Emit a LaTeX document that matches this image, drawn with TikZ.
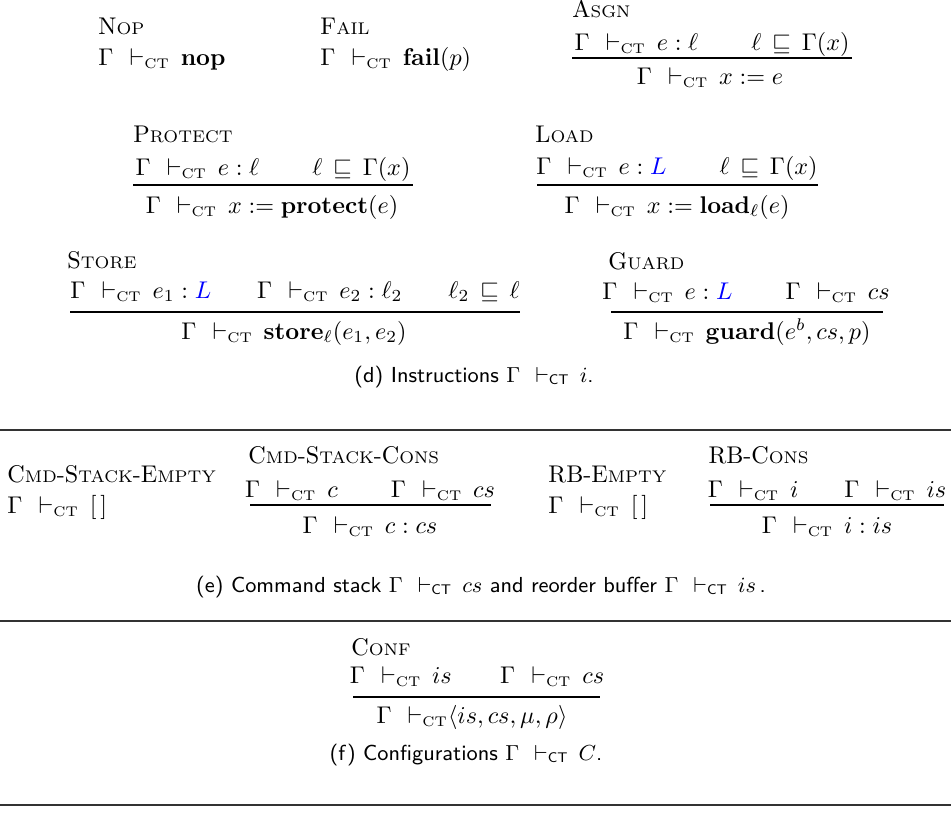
\documentclass[tikz,border=0pt]{standalone}
\usepackage{amsmath}
\usepackage{amssymb}
\usepackage{color}
\usepackage{tikz}

\newcommand{\ctsub}{\mbox{\fontsize{5.8}{6}\selectfont CT}}
\newcommand{\jdg}{\Gamma\mkern12mu{\vdash}_{\ctsub}\mkern8mu}
\newcommand{\lowL}{\textcolor{blue}{L}}
\newcommand{\rsc}[2]{#1{\fontsize{7}{9}\selectfont #2}}
\newcommand{\pgap}{\hspace{22pt}}
\newcommand{\flows}{\mkern3mu\sqsubseteq\mkern3mu}

\tikzset{
  rname/.style={anchor=base west,inner sep=0pt,font=\fontsize{10}{12}\selectfont},
  prem/.style={anchor=base,inner sep=0pt,font=\fontsize{10}{12}\selectfont},
  figcap/.style={anchor=base,inner sep=0pt,font=\fontsize{9}{11}\selectfont\sffamily},
  infline/.style={line width=0.5pt},
  sepline/.style={line width=0.45pt,black!80}
}

\begin{document}
\begin{tikzpicture}[x=0.414pt,y=-0.414pt]
	\useasboundingbox (0,0) rectangle (951,817);

	% (d) instructions
	\node[rname] (nopN) at (98,34) {\rsc{N}{OP}};
	\node[rname] (nopC) at (98,65) {$\jdg \mathbf{nop}$};
	\node[rname] (failN) at (320,34) {\rsc{F}{AIL}};
	\node[rname] (failC) at (320,65) {$\jdg \mathbf{fail}(p)$};

	\node[rname] (asgnN) at (572,17) {\rsc{A}{SGN}};
	\node[prem] (asgnP) at (712,50) {$\jdg e:\ell \pgap \ell\flows\Gamma(x)$};
	\coordinate (asgnA) at (572,58);
	\coordinate (asgnB) at (852,58);
	\node[prem] (asgnC) at (710,84) {$\jdg x := e$};
	\draw[infline] (asgnA) -- (asgnB);

	\node[rname] (protN) at (133,142) {\rsc{P}{ROTECT}};
	\node[prem] (protP) at (273,175) {$\jdg e:\ell \pgap \ell\flows\Gamma(x)$};
	\coordinate (protA) at (133,185);
	\coordinate (protB) at (413,185);
	\node[prem] (protC) at (272,213) {$\jdg x := \mathbf{protect}(e)$};
	\draw[infline] (protA) -- (protB);

	\node[rname] (loadN) at (535,142) {\rsc{L}{OAD}};
	\node[prem] (loadP) at (677,174) {$\jdg e:\lowL \pgap \ell\flows\Gamma(x)$};
	\coordinate (loadA) at (537,185);
	\coordinate (loadB) at (818,185);
	\node[prem] (loadC) at (677,213) {$\jdg x := \mathbf{load}_{\ell}(e)$};
	\draw[infline] (loadA) -- (loadB);

	\node[rname] (storeN) at (67,268) {\rsc{S}{TORE}};
	\node[prem] (storeP) at (295,298) {$\jdg e_1:\lowL \hspace{19pt} \jdg e_2:\ell_2 \hspace{19pt} \ell_2\flows\ell$};
	\coordinate (storeA) at (70,312);
	\coordinate (storeB) at (520,312);
	\node[prem] (storeC) at (294,339) {$\jdg \mathbf{store}_{\ell}(e_1,e_2)$};
	\draw[infline] (storeA) -- (storeB);

	\node[rname] (guardN) at (608,269) {\rsc{G}{UARD}};
	\node[prem] (guardP) at (746,299) {$\jdg e:\lowL \pgap \jdg cs$};
	\coordinate (guardA) at (611,312);
	\coordinate (guardB) at (883,312);
	\node[prem] (guardC) at (747,339) {$\jdg \mathbf{guard}(e^b,cs,p)$};
	\draw[infline] (guardA) -- (guardB);

	\node[figcap] (capD) at (474,382) {(d) Instructions $\jdg i$.};
	\coordinate (sepDa) at (0,430);
	\coordinate (sepDb) at (951,430);
	\draw[sepline] (sepDa) -- (sepDb);

	% (e) command stack and reorder buffer
	\node[rname] (cseN) at (7,482) {\rsc{C}{MD}-\rsc{S}{TACK}-\rsc{E}{MPTY}};
	\node[rname] (cseC) at (7,513) {$\jdg [\,]$};

	\node[rname] (cscN) at (248,463) {\rsc{C}{MD}-\rsc{S}{TACK}-\rsc{C}{ONS}};
	\node[prem] (cscP) at (370,497) {$\jdg c \pgap \jdg cs$};
	\coordinate (cscA) at (250,505);
	\coordinate (cscB) at (491,505);
	\node[prem] (cscC) at (370,533) {$\jdg c:cs$};
	\draw[infline] (cscA) -- (cscB);

	\node[rname] (rbeN) at (548,482) {RB-\rsc{E}{MPTY}};
	\node[rname] (rbeC) at (548,513) {$\jdg [\,]$};

	\node[rname] (rbcN) at (708,463) {RB-\rsc{C}{ONS}};
	\node[prem] (rbcP) at (827,497) {$\jdg i \hspace{19pt} \jdg is$};
	\coordinate (rbcA) at (710,505);
	\coordinate (rbcB) at (944,505);
	\node[prem] (rbcC) at (827,533) {$\jdg i:is$};
	\draw[infline] (rbcA) -- (rbcB);

	\node[figcap] (capE) at (481,592) {(e) Command stack $\jdg cs$ and reorder buffer $\jdg is$\,.};
	\coordinate (sepEa) at (0,621);
	\coordinate (sepEb) at (951,621);
	\draw[sepline] (sepEa) -- (sepEb);

	% (f) configurations
	\node[rname] (confN) at (351,655) {\rsc{C}{ONF}};
	\node[prem] (confP) at (477,683) {$\jdg is \hspace{20pt} \jdg cs$};
	\coordinate (confA) at (353,697);
	\coordinate (confB) at (600,697);
	\node[prem] (confC) at (472,723) {$\Gamma\mkern12mu{\vdash}_{\ctsub}\langle is,cs,\mu,\rho\rangle$};
	\draw[infline] (confA) -- (confB);

	\node[figcap] (capF) at (466,760) {(f) Configurations $\jdg C$.};
	\coordinate (sepFa) at (0,805);
	\coordinate (sepFb) at (951,805);
	\draw[sepline] (sepFa) -- (sepFb);
\end{tikzpicture}
\end{document}
